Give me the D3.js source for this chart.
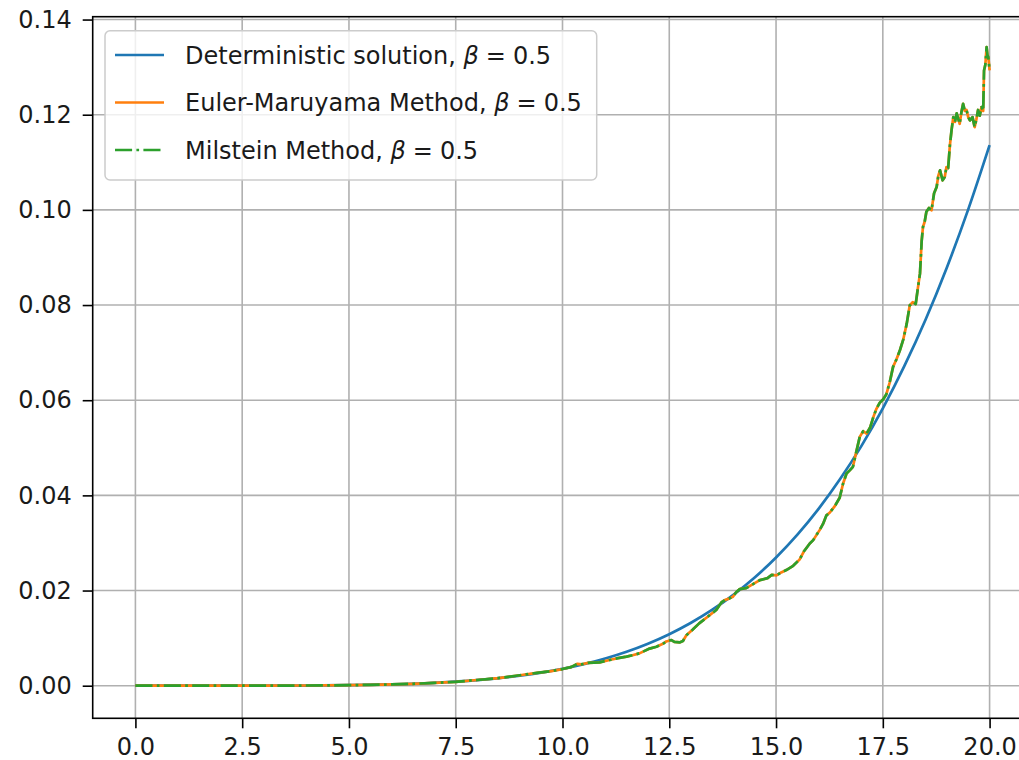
<!DOCTYPE html>
<html>
<head>
<meta charset="utf-8">
<script src="https://cdn.jsdelivr.net/npm/d3@7"></script>
<style>
  body { margin: 0; background: #fff; }
  svg { display: block; }
  text { font-family: "DejaVu Sans", sans-serif; fill: #1a1a1a; }
</style>
</head>
<body>
<div id="chart"></div>
<script>
// tick labels
const xTicks = [0, 2.5, 5, 7.5, 10, 12.5, 15, 17.5, 20]
const yTicks = [0, 0.02, 0.04, 0.06, 0.08, 0.10, 0.12, 0.14]

// deterministic solution
const detT = [0, 1, 2, 3, 4, 5, 6, 7, 8, 9, 10, 10.5, 11, 11.5, 12, 12.5, 13, 13.5, 14, 14.5,
              15, 15.5, 16, 16.5, 17, 17.5, 18, 18.5, 19, 19.5, 20]
const detY = [0, 0, 0.000001, 0.000009, 0.000036, 0.00011, 0.00028, 0.0006, 0.00116, 0.0021,
              0.00355, 0.00453, 0.00572, 0.00714, 0.00883, 0.01083, 0.01318, 0.01592, 0.01909, 0.02275,
              0.02696, 0.03176, 0.03722, 0.04342, 0.0504, 0.05827, 0.0671, 0.07691, 0.0879, 0.1001, 0.1136]

// stochastic path (Euler-Maruyama)
const pathT = [0, 0.5, 1, 2, 3, 4, 5, 5.5, 6, 6.5, 7, 7.5, 8, 8.5, 9, 9.4, 9.7, 10, 10.2, 10.35,
  10.45, 10.6, 10.87, 11.1, 11.3, 11.5, 11.64, 11.8, 12.04, 12.2, 12.35, 12.43, 12.55, 12.62, 12.74, 12.82,
  12.9, 13.05, 13.2, 13.4, 13.6, 13.72, 13.8, 13.9, 13.99, 14.07, 14.15, 14.3, 14.45, 14.62, 14.8, 14.9,
  15.01, 15.12, 15.24, 15.4, 15.55, 15.65, 15.79, 15.87, 16.02, 16.1, 16.18, 16.26, 16.38, 16.49, 16.57,
  16.65, 16.72, 16.8, 16.88, 16.96, 17.04, 17.12, 17.2, 17.28, 17.35, 17.43, 17.51, 17.58, 17.66, 17.74,
  17.82, 17.9, 17.98, 18.06, 18.13, 18.2, 18.27, 18.32, 18.37, 18.41, 18.44, 18.48, 18.52, 18.58, 18.64,
  18.7, 18.76, 18.8, 18.84, 18.9, 18.95, 18.99, 19.03, 19.07, 19.11, 19.15, 19.19, 19.23, 19.27, 19.3,
  19.34, 19.38, 19.42, 19.46, 19.5, 19.54, 19.6, 19.65, 19.69, 19.73, 19.77, 19.81, 19.85, 19.87, 19.9,
  19.93, 19.95, 19.97, 20]
const eulerY = [0, 0, 0, 0, 0.00001, 0.00004, 0.00011, 0.00018, 0.00028, 0.0004, 0.0006, 0.0008, 0.0012,
  0.0016, 0.0022, 0.0027, 0.003, 0.0035, 0.0039, 0.0046,
  0.0045, 0.0048, 0.0049, 0.0054, 0.0058, 0.0061, 0.0064, 0.0068, 0.0078, 0.0082, 0.0088, 0.0093, 0.0096,
  0.0092, 0.0091, 0.0094,
  0.0106, 0.0118, 0.0131, 0.0145, 0.0159, 0.0175, 0.018, 0.0183, 0.0187, 0.0197, 0.0203, 0.0205, 0.0213,
  0.0222, 0.0226, 0.0233,
  0.0232, 0.0238, 0.0243, 0.0252, 0.0265, 0.0282, 0.0299, 0.0306, 0.0327, 0.034, 0.0358, 0.0364, 0.0378,
  0.0395, 0.0425,
  0.0446, 0.0452, 0.046, 0.0492, 0.0523, 0.0535, 0.053, 0.0542, 0.0565, 0.0582, 0.0595, 0.0602, 0.0612,
  0.0637, 0.067,
  0.0686, 0.0705, 0.0728, 0.0761, 0.0799, 0.0806, 0.0802, 0.0835, 0.0866, 0.0935, 0.0964, 0.0975, 0.0996,
  0.1004, 0.0999,
  0.1035, 0.1048, 0.1072, 0.1083, 0.1062, 0.1069, 0.109, 0.1088, 0.1135, 0.1168, 0.1195, 0.1185, 0.1203,
  0.119, 0.1181,
  0.1205, 0.1223, 0.1208, 0.121, 0.1195, 0.1188, 0.1195, 0.1174, 0.119, 0.121, 0.1198, 0.1216, 0.1208,
  0.1293, 0.1305,
  0.1342, 0.1325, 0.1321, 0.1293]
// Milstein lies on top of Euler-Maruyama within a pixel
const milsteinY = eulerY

const seriesNames = ["Deterministic solution, ", "Euler-Maruyama Method, ", "Milstein Method, "]
const seriesColors = ["#1f77b4", "#ff7f0e", "#2ca02c"]

let width = 1019
let height = 760
let fontSize = 24

// axes box (the right spine falls outside the picture)
let boxLeft = 92.7, boxRight = 1032.3, boxTop = 16.7, boxBottom = 718.3

let x = d3.scaleLinear().domain([-1, 21]).range([boxLeft, boxRight])
let y = d3.scaleLinear().domain([-0.00685, 0.1406]).range([boxBottom, boxTop])

let svg = d3.select("#chart")
  .append("svg")
  .attr("width", width)
  .attr("height", height)

svg.append("clipPath").attr("id", "plotClip")
  .append("rect")
  .attr("x", boxLeft).attr("y", boxTop)
  .attr("width", boxRight - boxLeft).attr("height", boxBottom - boxTop)

// grid
let grid = svg.append("g").attr("stroke", "#b0b0b0").attr("stroke-width", 1.6)
grid.selectAll(".gx").data(xTicks).enter().append("line")
  .attr("x1", d => x(d)).attr("x2", d => x(d))
  .attr("y1", boxTop).attr("y2", boxBottom)
grid.selectAll(".gy").data(yTicks).enter().append("line")
  .attr("x1", boxLeft).attr("x2", boxRight)
  .attr("y1", d => y(d)).attr("y2", d => y(d))

// lines
let plot = svg.append("g").attr("clip-path", "url(#plotClip)")

let detLine = d3.line().x(d => x(d[0])).y(d => y(d[1])).curve(d3.curveMonotoneX)
let pathLine = d3.line().x(d => x(d[0])).y(d => y(d[1]))

plot.append("path")
  .datum(d3.zip(detT, detY))
  .attr("d", detLine)
  .attr("fill", "none")
  .attr("stroke", seriesColors[0])
  .attr("stroke-width", 2.7)

plot.append("path")
  .datum(d3.zip(pathT, eulerY))
  .attr("d", pathLine)
  .attr("fill", "none")
  .attr("stroke", seriesColors[1])
  .attr("stroke-width", 2.7)
  .attr("stroke-linejoin", "round")

plot.append("path")
  .datum(d3.zip(pathT, milsteinY))
  .attr("d", pathLine)
  .attr("fill", "none")
  .attr("stroke", seriesColors[2])
  .attr("stroke-width", 2.7)
  .attr("stroke-linejoin", "round")
  .attr("stroke-dasharray", "17.1,4.3,2.7,4.3")

// axes
let xAxis = d3.axisBottom(x).tickValues(xTicks).tickSize(10).tickPadding(12)
  .tickFormat(d3.format(".1f"))
let yAxis = d3.axisLeft(y).tickValues(yTicks).tickSize(10).tickPadding(11)
  .tickFormat(d3.format(".2f"))

let gx = svg.append("g")
  .attr("transform", `translate(0, ${boxBottom})`)
  .call(xAxis)
let gy = svg.append("g")
  .attr("transform", `translate(${boxLeft}, 0)`)
  .call(yAxis)

;[gx, gy].forEach(g => {
  g.select(".domain").remove()
  g.selectAll(".tick line").attr("stroke", "#000").attr("stroke-width", 1.6)
  g.selectAll(".tick text").attr("font-size", fontSize).attr("font-family", "DejaVu Sans").attr("fill", "#1a1a1a")
})
gx.selectAll(".tick text").attr("dy", "0.62em")

// spines
let spines = svg.append("g").attr("stroke", "#000").attr("stroke-width", 1.6).attr("fill", "none")
spines.append("rect")
  .attr("x", boxLeft).attr("y", boxTop)
  .attr("width", boxRight - boxLeft).attr("height", boxBottom - boxTop)

// legend
let legend = svg.append("g")
legend.append("rect")
  .attr("x", 105).attr("y", 30.7)
  .attr("width", 491.7).attr("height", 149.3)
  .attr("rx", 5).attr("ry", 5)
  .attr("fill", "rgba(255,255,255,0.8)")
  .attr("stroke", "#cccccc")
  .attr("stroke-width", 1.5)

let rows = [0, 1, 2]
let rowY = d3.scalePoint().domain(rows).range([55, 150])

rows.forEach(i => {
  let ly = rowY(i)
  let ln = legend.append("line")
    .attr("x1", 115).attr("x2", 164)
    .attr("y1", ly).attr("y2", ly)
    .attr("stroke", seriesColors[i])
    .attr("stroke-width", 2.7)
  if (i === 2) ln.attr("stroke-dasharray", "17.1,4.3,2.7,4.3")

  let t = legend.append("text")
    .attr("x", 185).attr("y", ly + 8.8)
    .attr("font-size", fontSize)
  t.append("tspan").text(seriesNames[i])
  t.append("tspan").attr("font-style", "italic").text("β")
  t.append("tspan").attr("dx", 7).text("=")
  t.append("tspan").attr("dx", 7).text("0.5")
})
</script>
</body>
</html>
